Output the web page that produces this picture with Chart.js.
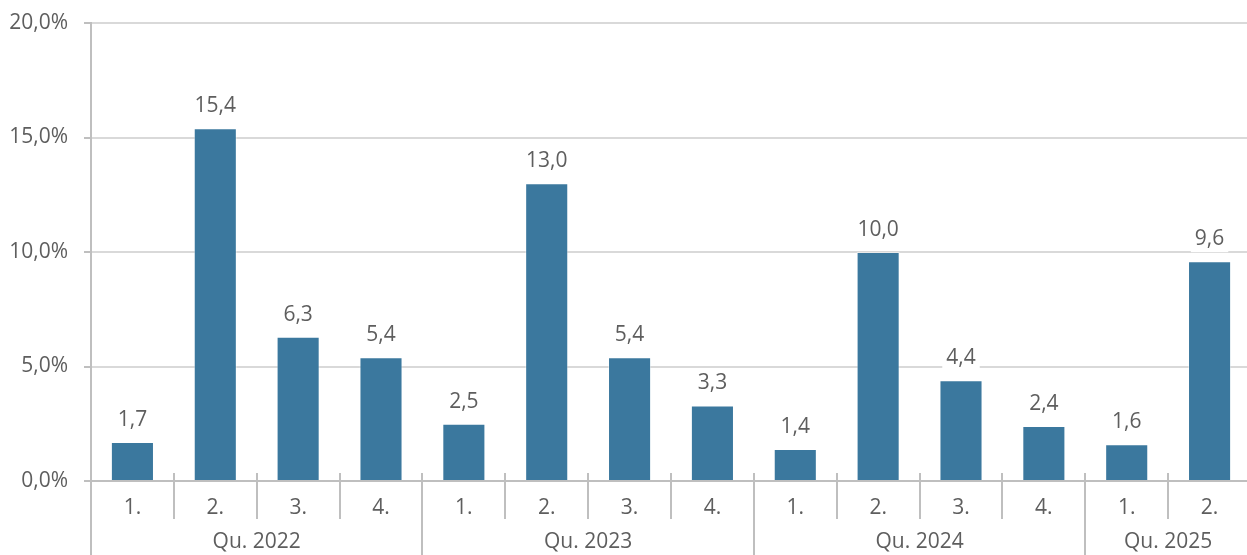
<!DOCTYPE html>
<html>
<head>
<meta charset="utf-8">
<script src="https://cdn.jsdelivr.net/npm/chart.js@4/dist/chart.umd.min.js"></script>
<style>
  html, body { margin: 0; padding: 0; background: #fff; overflow: hidden; }
  #wrap { width: 1251px; height: 555px; position: relative; }
</style>
</head>
<body>
<div id="wrap"><canvas id="chart"></canvas></div>
<script>
// Quarterly growth rates, grouped by year
const quarters = ['1.', '2.', '3.', '4.', '1.', '2.', '3.', '4.', '1.', '2.', '3.', '4.', '1.', '2.'];
const years = ['Qu. 2022', 'Qu. 2023', 'Qu. 2024', 'Qu. 2025'];
const quartersPerYear = [4, 4, 4, 2];
const growth = [1.7, 15.4, 6.3, 5.4, 2.5, 13.0, 5.4, 3.3, 1.4, 10.0, 4.4, 2.4, 1.6, 9.6];
const yMin = 0, yMax = 20, yStep = 5;

const FONT = "'Open Sans', 'Noto Sans', sans-serif";
const TEXT = '#5e5e5e';
const AXIS = '#bfbfbf';
const GRID = '#d9d9d9';
const SIZE = 21;
const WEIGHT = 400;

const fmt = (v, d) => v.toFixed(d).replace('.', ',');

// Value labels above each bar on a white backing
const valueLabels = {
  id: 'valueLabels',
  afterDatasetsDraw(chart) {
    const ctx = chart.ctx;
    const meta = chart.getDatasetMeta(0);
    ctx.save();
    ctx.font = `${WEIGHT} ${SIZE}px ${FONT}`;
    ctx.textAlign = 'center';
    ctx.textBaseline = 'middle';
    meta.data.forEach((bar, i) => {
      const txt = fmt(growth[i], 1);
      const w = ctx.measureText(txt).width + 8;
      const cy = bar.y - 22;
      ctx.fillStyle = '#fff';
      ctx.fillRect(bar.x - w / 2, cy - 14, w, 27);
      ctx.fillStyle = TEXT;
      ctx.fillText(txt, bar.x, cy);
    });
    ctx.restore();
  }
};

// Category separators and the year row below the quarter labels
const groupAxis = {
  id: 'groupAxis',
  afterDraw(chart) {
    const ctx = chart.ctx;
    const x = chart.scales.x;
    const area = chart.chartArea;
    const H = chart.height;
    const half = (x.getPixelForValue(1) - x.getPixelForValue(0)) / 2;
    const yearStarts = new Set();
    let acc = 0;
    quartersPerYear.forEach(n => { yearStarts.add(acc); acc += n; });

    ctx.save();
    ctx.strokeStyle = AXIS;
    ctx.lineWidth = 2;
    // left axis continues down through the label rows
    ctx.beginPath();
    ctx.moveTo(area.left, area.bottom);
    ctx.lineTo(area.left, H);
    ctx.stroke();
    for (let i = 1; i < quarters.length; i++) {
      const px = Math.round(x.getPixelForValue(i) - half);
      ctx.beginPath();
      ctx.moveTo(px, area.bottom - 8);
      ctx.lineTo(px, yearStarts.has(i) ? H : area.bottom + 38);
      ctx.stroke();
    }

    ctx.font = `${WEIGHT} ${SIZE}px ${FONT}`;
    ctx.fillStyle = TEXT;
    ctx.textAlign = 'center';
    ctx.textBaseline = 'middle';
    let start = 0;
    years.forEach((label, k) => {
      const end = start + quartersPerYear[k] - 1;
      const left = x.getPixelForValue(start) - half;
      const right = x.getPixelForValue(end) + half;
      ctx.fillText(label, (left + right) / 2, 542);
      start = end + 1;
    });
    ctx.restore();
  }
};

new Chart(document.getElementById('chart'), {
  type: 'bar',
  data: {
    labels: quarters,
    datasets: [{
      data: growth,
      backgroundColor: '#3b789e',
      borderColor: 'rgba(255,255,255,0.45)',
      borderWidth: 1,
      barPercentage: 0.52,
      categoryPercentage: 1
    }]
  },
  options: {
    responsive: true,
    maintainAspectRatio: false,
    animation: false,
    layout: { padding: { top: 23, right: 0, bottom: 0, left: 0 } },
    plugins: { legend: { display: false }, tooltip: { enabled: false } },
    scales: {
      x: {
        offset: true,
        grid: { display: false },
        border: { display: true, color: AXIS, width: 2 },
        ticks: {
          color: TEXT,
          font: { family: FONT, size: SIZE, weight: WEIGHT },
          padding: 6,
          maxRotation: 0,
          autoSkip: false
        },
        afterFit(scale) { scale.height = 74; scale.paddingLeft = 0; scale.paddingRight = 0; }
      },
      y: {
        min: yMin,
        max: yMax,
        grid: { color: GRID, lineWidth: 2, tickLength: 7, tickColor: AXIS },
        border: { display: true, color: AXIS, width: 2 },
        ticks: {
          stepSize: yStep,
          color: TEXT,
          font: { family: FONT, size: SIZE, weight: WEIGHT },
          padding: 16,
          callback: v => fmt(v, 1) + '%'
        },
        afterFit(scale) { scale.width = 91; scale.paddingTop = 0; scale.paddingBottom = 0; }
      }
    }
  },
  plugins: [valueLabels, groupAxis]
});
</script>
</body>
</html>
